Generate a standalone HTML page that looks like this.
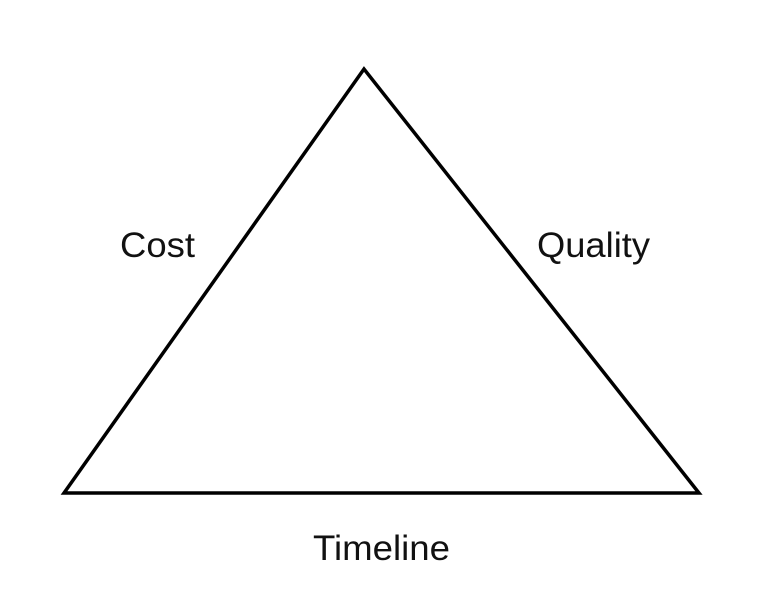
<!DOCTYPE html>
<html><head><style>
html,body{margin:0;padding:0;background:#fff;width:768px;height:602px;overflow:hidden}
</style></head><body>
<svg width="768" height="602" viewBox="0 0 768 602" xmlns="http://www.w3.org/2000/svg">
<polygon points="364,69 64,493 699,493" fill="none" stroke="#000" stroke-width="3.5" stroke-linejoin="miter"/>
<g font-family="Liberation Sans, Arial, sans-serif" font-size="35" fill="#111">
<text x="120" y="257" textLength="75" lengthAdjust="spacingAndGlyphs">Cost</text>
<text x="537" y="257" textLength="113" lengthAdjust="spacingAndGlyphs">Quality</text>
<text x="313" y="560" textLength="137" lengthAdjust="spacingAndGlyphs">Timeline</text>
</g>
</svg>
</body></html>
